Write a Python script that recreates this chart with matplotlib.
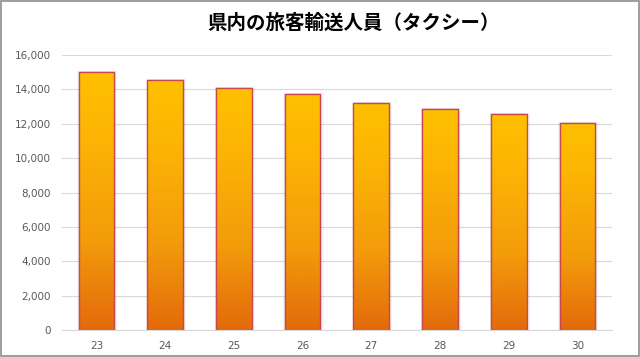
import numpy as np
import matplotlib.pyplot as plt
from matplotlib.colors import LinearSegmentedColormap
from matplotlib.patches import Rectangle

years = ["23", "24", "25", "26", "27", "28", "29", "30"]
passengers = [15030, 14570, 14060, 13710, 13200, 12870, 12570, 12050]
y_ticks = [0, 2000, 4000, 6000, 8000, 10000, 12000, 14000, 16000]

fig = plt.figure(figsize=(6.4, 3.57), dpi=100)
ax = fig.add_axes([0.097, 0.0756, 0.859, 0.77])

x = np.arange(len(years))
bars = ax.bar(x, passengers, width=0.52, color="none", edgecolor="#C9474F",
              linewidth=1.0, zorder=3)

cmap = LinearSegmentedColormap.from_list(
    "orange", [(0, "#E36A0B"), (0.35, "#F39C0B"), (0.75, "#FCB504"), (1, "#FFC000")])
grad = np.linspace(0, 1, 256).reshape(-1, 1)
for b in bars:
    x0, y0 = b.get_x(), b.get_y()
    w, h = b.get_width(), b.get_height()
    # soft shadow around the bar
    for off, a in [(0.045, 0.04), (0.025, 0.06)]:
        ax.add_patch(Rectangle((x0 - off * 0.4, y0), w + off * 1.4, h + 60,
                               color="#000000", alpha=a, lw=0, zorder=1.5))
    im = ax.imshow(grad, cmap=cmap, origin="lower", aspect="auto",
                   extent=[x0, x0 + w, y0, y0 + h], vmin=0, vmax=1, zorder=2)
    im.set_clip_path(b)

ax.set_xlim(-0.5, len(years) - 0.5)
ax.set_ylim(0, 16000)
ax.set_xticks(x)
ax.set_xticklabels(years)
ax.set_yticks(y_ticks)
ax.set_yticklabels([f"{v:,}" for v in y_ticks])
ax.tick_params(length=0, colors="#595959", labelsize=7.5, pad=8)
ax.grid(axis="y", color="#D9D9D9", linewidth=0.8, zorder=0)
ax.set_axisbelow(True)
for s in ["top", "right", "left"]:
    ax.spines[s].set_visible(False)
ax.spines["bottom"].set_color("#D9D9D9")

fig.text(0.552, 0.935, "県内の旅客輸送人員（タクシー）", ha="center", va="center",
         fontsize=14, fontweight="bold", family=["Noto Sans CJK JP", "DejaVu Sans"])

fig.patches.append(Rectangle((0.001, 0.002), 0.997, 0.995, transform=fig.transFigure,
                             fill=False, edgecolor="#8C8C8C", linewidth=1.2))

fig.savefig("out.png", dpi=100)
